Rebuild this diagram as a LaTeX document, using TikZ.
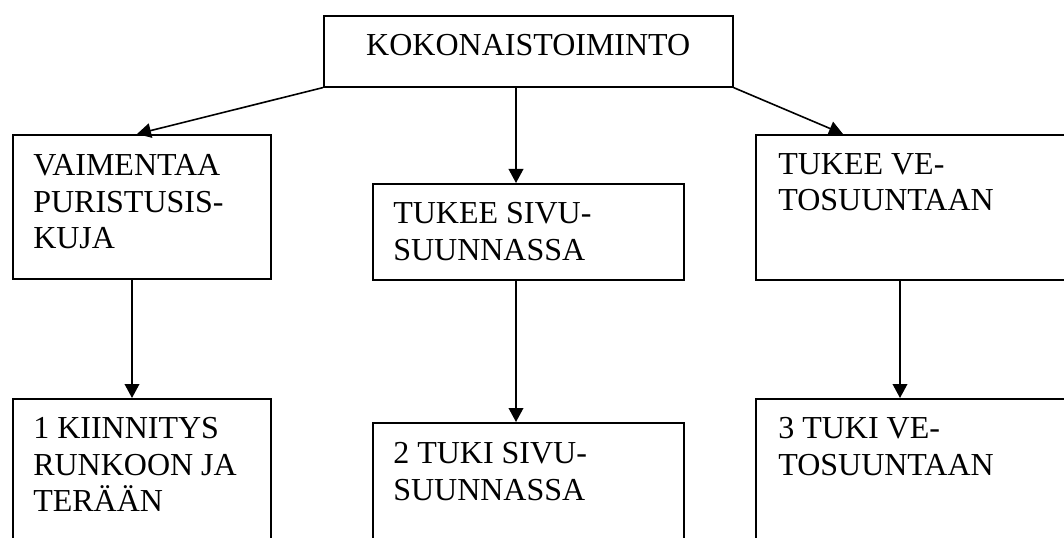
\documentclass[tikz,border=0pt]{standalone}
\usepackage{fontspec}
\setmainfont{Liberation Serif}
\usetikzlibrary{calc, arrows.meta}

\begin{document}
\begin{tikzpicture}[x=0.75pt, y=-0.75pt,
    laatikko/.style={draw, line width=1.2pt, inner sep=0pt, anchor=north west},
    teksti/.style={anchor=north west, align=left, inner sep=0pt,
                   font=\fontsize{24}{27.5}\selectfont},
    nuoli/.style={line width=1.2pt, -{Triangle[length=10.5pt, width=11pt]}}]
    % --- 1. rajaus ---
    \useasboundingbox (0,0) rectangle (1064,538);
    \clip (0,0) rectangle (1064,538);

    % --- 2. laatikot ---
    \node[laatikko, minimum width=306.75pt, minimum height=53.25pt] (koko) at (323,15) {};
    \node[laatikko, minimum width=193.5pt, minimum height=108pt] (vaim) at (12,134) {};
    \node[laatikko, minimum width=233.25pt, minimum height=72pt] (sivu) at (372,183) {};
    \node[laatikko, minimum width=251.25pt, minimum height=108.75pt] (veto) at (755,134) {};
    \node[laatikko, minimum width=193.5pt, minimum height=120pt] (kiin) at (12,398) {};
    \node[laatikko, minimum width=233.25pt, minimum height=105pt] (tuki2) at (372,422) {};
    \node[laatikko, minimum width=251.25pt, minimum height=120pt] (tuki3) at (755,398) {};

    % --- 3. tekstit ---
    \node[teksti, anchor=north] (koko-t) at ($(koko.north)+(0,19)$) {KOKONAISTOIMINTO};
    \node[teksti] (vaim-t) at ($(vaim.north west)+(21,20)$) {VAIMENTAA\\PURISTUSIS-\\KUJA};
    \node[teksti] (sivu-t) at ($(sivu.north west)+(21,19)$) {TUKEE SIVU-\\SUUNNASSA};
    \node[teksti] (veto-t) at ($(veto.north west)+(23,19)$) {TUKEE VE-\\TOSUUNTAAN};
    \node[teksti] (kiin-t) at ($(kiin.north west)+(21,19)$) {1 KIINNITYS\\RUNKOON JA\\TERÄÄN};
    \node[teksti] (tuki2-t) at ($(tuki2.north west)+(21,20)$) {2 TUKI SIVU-\\SUUNNASSA};
    \node[teksti] (tuki3-t) at ($(tuki3.north west)+(23,19)$) {3 TUKI VE-\\TOSUUNTAAN};

    % --- 4. nuolet ---
    \draw[nuoli] (koko.south west) -- ($(vaim.north west)+(125,0)$);
    \draw[nuoli] ($(koko.south west)+(193,0)$) -- ($(sivu.north west)+(144,0)$);
    \draw[nuoli] (koko.south east) -- ($(veto.north west)+(88,0)$);
    \draw[nuoli] ($(vaim.south west)+(120,0)$) -- ($(kiin.north west)+(120,0)$);
    \draw[nuoli] ($(sivu.south west)+(144,0)$) -- ($(tuki2.north west)+(144,0)$);
    \draw[nuoli] ($(veto.south west)+(145,0)$) -- ($(tuki3.north west)+(145,0)$);
\end{tikzpicture}
\end{document}
